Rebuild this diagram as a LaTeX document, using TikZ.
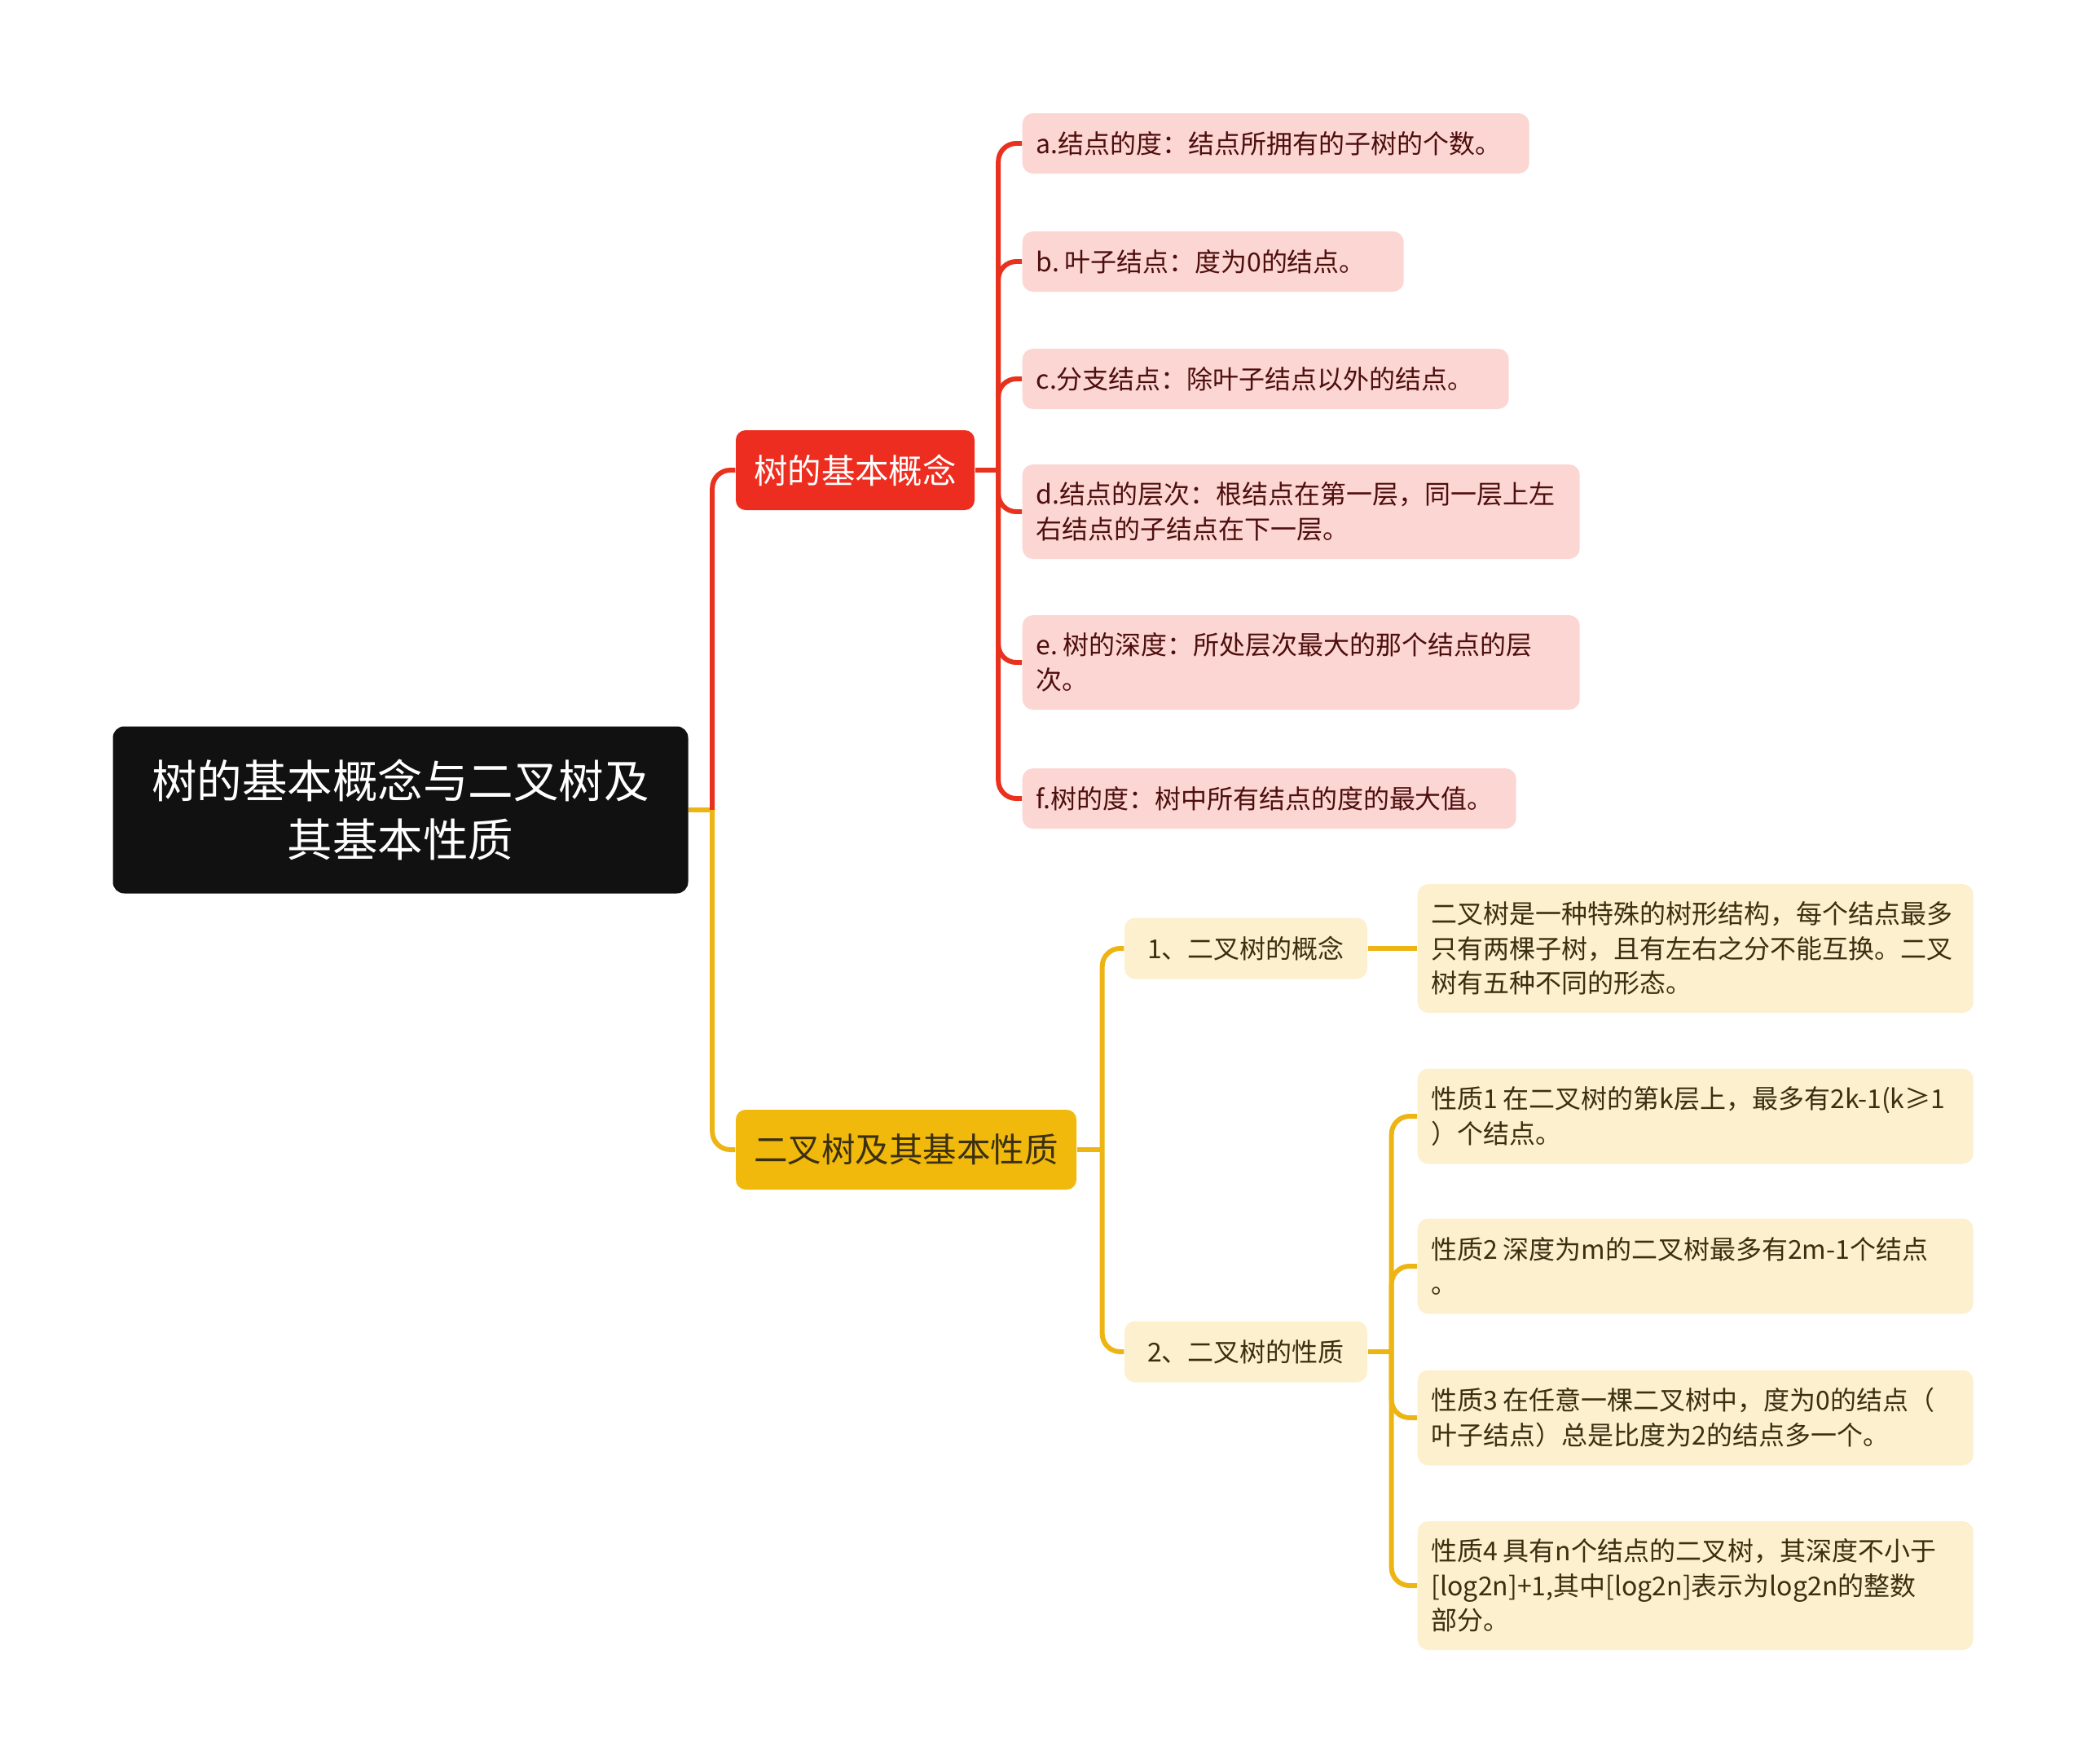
\documentclass[tikz,border=0pt]{standalone}
\usepackage{fontspec}
\setmainfont{Noto Sans CJK SC}
\usetikzlibrary{positioning}
\definecolor{rootfill}{HTML}{111111}
\definecolor{redfill}{HTML}{ED2D1F}
\definecolor{redleaffill}{HTML}{FCD6D2}
\definecolor{redtext}{HTML}{4D0E0E}
\definecolor{redline}{HTML}{E8321E}
\definecolor{yelfill}{HTML}{F0B90B}
\definecolor{yelleaffill}{HTML}{FCF0CE}
\definecolor{yeltext}{HTML}{3B2F12}
\definecolor{yelline}{HTML}{EDB514}
\newcommand{\gap}{\hspace{0.2em}}
\begin{document}
\begin{tikzpicture}[
          rootbox/.style={fill=rootfill, text=white, rounded corners=0.14cm, align=center,
            minimum width=7.06cm, minimum height=2.05cm, inner sep=0pt,
            font=\fontsize{15.8}{20.4}\selectfont},
          mainbox/.style={rounded corners=0.12cm, minimum height=0.98cm, inner sep=0pt,
            font=\fontsize{11.8}{14}\selectfont},
          redbox/.style={mainbox, fill=redfill, text=white},
          yelbox/.style={mainbox, fill=yelfill, text=yeltext},
          leaf/.style={anchor=west, rounded corners=0.13cm, align=left, inner ysep=0pt,
            inner xsep=0.17cm, font=\fontsize{9.1}{12.1}\selectfont},
          redleaf/.style={leaf, fill=redleaffill, text=redtext},
          yelleaf/.style={leaf, fill=yelleaffill, text=yeltext},
          yelsub/.style={fill=yelleaffill, text=yeltext, rounded corners=0.13cm,
            minimum width=2.98cm, minimum height=0.75cm, inner sep=0pt,
            font=\fontsize{9.1}{12.1}\selectfont},
          rline/.style={draw=redline, line width=1.7pt, rounded corners=0.22cm},
          yline/.style={draw=yelline, line width=1.7pt, rounded corners=0.22cm}]
        \useasboundingbox (0,0) rectangle (25.6,-21.65);
        \node[rootbox] (root) at (4.915,-9.94) {树的基本概念与二叉树及\\其基本性质};
        \node[redbox, minimum width=2.93cm] (basic) at (10.495,-5.77) {树的基本概念};
        \node[yelbox, minimum width=4.18cm] (binary) at (11.12,-14.11) {二叉树及其基本性质};
        % tree concepts
        \node[redleaf, text width=5.88cm, minimum height=0.74cm] (a) at (12.54,-1.76) {a.结点的度：结点所拥有的子树的个数。};
        \node[redleaf, text width=4.34cm, minimum height=0.74cm] (b) at (12.54,-3.21) {b.\gap 叶子结点：度为0的结点。};
        \node[redleaf, text width=5.63cm, minimum height=0.74cm] (c) at (12.54,-4.65) {c.分支结点：除叶子结点以外的结点。};
        \node[redleaf, text width=6.50cm, minimum height=1.16cm] (d) at (12.54,-6.28) {d.结点的层次：根结点在第一层，同一层上左\\右结点的子结点在下一层。};
        \node[redleaf, text width=6.50cm, minimum height=1.16cm] (e) at (12.54,-8.13) {e.\gap 树的深度：所处层次最大的那个结点的层\\次。};
        \node[redleaf, text width=5.72cm, minimum height=0.74cm] (f) at (12.54,-9.80) {f.树的度：树中所有结点的度的最大值。};
        % binary tree
        \node[yelsub] (n1) at (15.29,-11.64) {1、二叉树的概念};
        \node[yelsub] (n2) at (15.29,-16.59) {2、二叉树的性质};
        \node[yelleaf, text width=6.48cm, minimum height=1.58cm] (concept) at (17.39,-11.64) {二叉树是一种特殊的树形结构，每个结点最多\\只有两棵子树，且有左右之分不能互换。二叉\\树有五种不同的形态。};
        \node[yelleaf, text width=6.48cm, minimum height=1.17cm] (p1) at (17.39,-13.70) {性质1\gap 在二叉树的第k层上，最多有2k-1(k≥1\\）个结点。};
        \node[yelleaf, text width=6.48cm, minimum height=1.17cm] (p2) at (17.39,-15.54) {性质2\gap 深度为m的二叉树最多有2m-1个结点\\。};
        \node[yelleaf, text width=6.48cm, minimum height=1.17cm] (p3) at (17.39,-17.40) {性质3\gap 在任意一棵二叉树中，度为0的结点（\\叶子结点）总是比度为2的结点多一个。};
        \node[yelleaf, text width=6.48cm, minimum height=1.58cm] (p4) at (17.39,-19.46) {性质4\gap 具有n个结点的二叉树，其深度不小于\\{}[log2n]+1,其中[log2n]表示为log2n的整数\\部分。};
        % connectors
        \coordinate[right=0.29cm of root.east] (jroot);
        \coordinate[right=0.285cm of basic.east] (jbasic);
        \coordinate[right=0.31cm of binary.east] (jbinary);
        \coordinate[right=0.29cm of n2.east] (jprop);
        \draw[yline] (root.east) -- (jroot);
        \draw[rline] (jroot) |- (basic.west);
        \draw[yline] (jroot) |- (binary.west);
        \draw[rline] (basic.east) -- (jbasic);
        \foreach \n in {a,b,c,d,e,f}
          \draw[rline] (jbasic) |- (\n.west);
        \draw[yline] (binary.east) -- (jbinary);
        \foreach \n in {n1,n2}
          \draw[yline] (jbinary) |- (\n.west);
        \draw[yline] (n1.east) -- (concept.west);
        \draw[yline] (n2.east) -- (jprop);
        \foreach \n in {p1,p2,p3,p4}
          \draw[yline] (jprop) |- (\n.west);
      \end{tikzpicture}
\end{document}
